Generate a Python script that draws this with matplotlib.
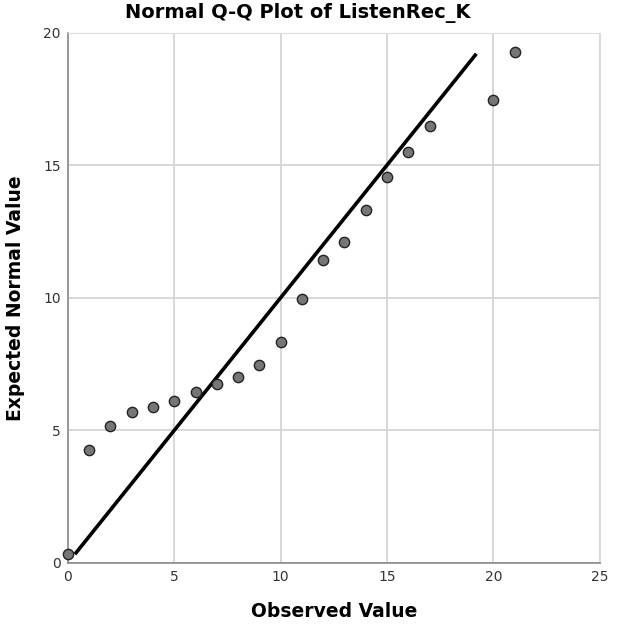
import matplotlib.pyplot as plt

# observed vs expected normal values
observed = [0, 1, 2, 3, 4, 5, 6, 7, 8, 9, 10, 11, 12, 13, 14, 15, 16, 17, 20, 21]
expected = [0.35, 4.25, 5.15, 5.68, 5.87, 6.1, 6.43, 6.73, 7.02, 7.48, 8.33,
            9.95, 11.42, 12.1, 13.3, 14.57, 15.5, 16.48, 17.45, 19.27]
line_x = [0.33, 19.2]
line_y = [0.33, 19.2]

fig = plt.figure(figsize=(6.17, 6.33), dpi=100)
ax = fig.add_axes([0.110, 0.1106, 0.862, 0.838])

ax.set_xlim(0, 25)
ax.set_ylim(0, 20)
ax.set_xticks([0, 5, 10, 15, 20, 25])
ax.set_yticks([0, 5, 10, 15, 20])
ax.grid(True, color='#d4d4d4', linewidth=1.3)
ax.set_axisbelow(True)

ax.plot(line_x, line_y, color='black', linewidth=2.6, solid_capstyle='butt', zorder=2)
ax.scatter(observed, expected, s=55, color='#767676', edgecolors='#222222',
           linewidths=1.0, zorder=3, clip_on=False)

for side in ['top', 'right']:
    ax.spines[side].set_color('#dcdcdc')
for side in ['left', 'bottom']:
    ax.spines[side].set_color('#8a8a8a')
    ax.spines[side].set_linewidth(1.2)

ax.tick_params(length=0, labelsize=10, labelcolor='#333333', pad=5)

# title sits a bit left of the axes centre, like the original
fig.text(0.482, 0.979, 'Normal Q-Q Plot of ListenRec_K', fontsize=14,
         fontweight='bold', ha='center', va='center')
ax.set_xlabel('Observed Value', fontsize=13.5, fontweight='bold', labelpad=13)
ax.set_ylabel('Expected Normal Value', fontsize=13.5, fontweight='bold', labelpad=13)

fig.savefig('out.png')
